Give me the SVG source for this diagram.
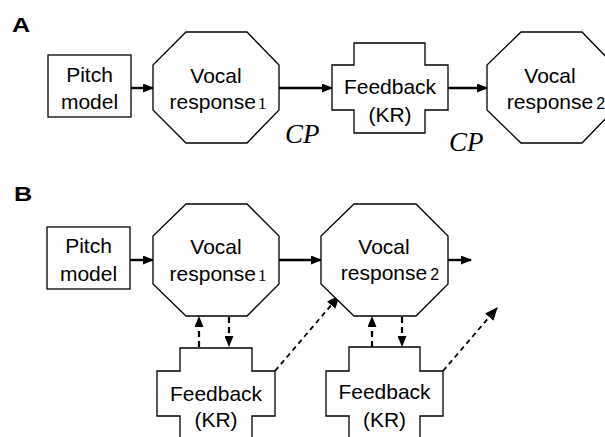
<svg xmlns="http://www.w3.org/2000/svg" width="605" height="437" viewBox="0 0 605 437">
  <defs>
    <marker id="head" markerUnits="userSpaceOnUse" markerWidth="11" markerHeight="9" refX="10" refY="4.5" orient="auto">
      <path d="M0,0 L11,4.5 L0,9 z" fill="#000"/>
    </marker>
    <marker id="headL" markerUnits="userSpaceOnUse" markerWidth="13" markerHeight="11" refX="12" refY="5.5" orient="auto">
      <path d="M0,0 L13,5.5 L0,11 z" fill="#000"/>
    </marker>
  </defs>
  <style>
    .shape { fill: #fff; stroke: #000; stroke-width: 1.3; }
    .lbl { font-family: "Liberation Sans", Arial, sans-serif; font-size: 21px; fill: #000; text-anchor: middle; }
    .sub1 { font-family: "Liberation Serif", "Times New Roman", serif; font-size: 17px; }
    .sub2 { font-family: "Liberation Sans", Arial, sans-serif; font-size: 16px; }
    .panel { font-family: "Liberation Sans", Arial, sans-serif; font-size: 21px; font-weight: bold; fill: #000; }
    .cp { font-family: "Liberation Serif", "Times New Roman", serif; font-style: italic; font-size: 27px; fill: #000; }
    .solid { stroke: #000; stroke-width: 2.4; fill: none; marker-end: url(#head); }
    .dash { stroke: #000; stroke-width: 2.2; fill: none; stroke-dasharray: 6 4; marker-end: url(#head); }
    .dashL { stroke: #000; stroke-width: 1.8; fill: none; stroke-dasharray: 5 4; marker-end: url(#headL); }
  </style>

  <!-- panel labels -->
  <text class="panel" transform="translate(12 32) scale(1.2 1)">A</text>
  <text class="panel" transform="translate(14 201) scale(1.2 1)">B</text>

  <!-- connectors -->
  <g id="connectors">
    <!-- panel A -->
    <line class="solid" x1="131" y1="88" x2="153" y2="88"/>
    <line class="solid" x1="279" y1="88" x2="332" y2="88"/>
    <line class="solid" x1="448" y1="88" x2="487" y2="88"/>
    <!-- panel B -->
    <line class="solid" x1="130" y1="260" x2="153" y2="260"/>
    <line class="solid" x1="279" y1="260" x2="321" y2="260"/>
    <line class="solid" x1="448" y1="260" x2="471" y2="260"/>
    <line class="dash" x1="199" y1="347" x2="199" y2="317"/>
    <line class="dash" x1="229" y1="317" x2="229" y2="346"/>
    <line class="dash" x1="372" y1="347" x2="372" y2="317"/>
    <line class="dash" x1="402" y1="317" x2="402" y2="346"/>
    <line class="dashL" x1="275" y1="371" x2="339" y2="296"/>
    <line class="dashL" x1="443" y1="371" x2="497" y2="308"/>
  </g>

  <!-- CP labels -->
  <text class="cp" x="285" y="143">CP</text>
  <text class="cp" x="449" y="151">CP</text>

  <!-- panel A nodes -->
  <g id="a-pitch">
    <rect class="shape" x="48" y="55" width="83" height="62"/>
    <text class="lbl" x="89.5" y="82">Pitch</text>
    <text class="lbl" x="89.5" y="109">model</text>
  </g>
  <g id="a-vocal1">
    <polygon class="shape" points="186,32 247,32 279,65 279,110 247,143 186,143 153,110 153,65"/>
    <text class="lbl" x="216" y="83">Vocal</text>
    <text class="lbl" x="218" y="109">response<tspan class="sub1" dx="2">1</tspan></text>
  </g>
  <g id="a-feedback">
    <polygon class="shape" points="354,43 425,43 425,65 448,65 448,110 425,110 425,133 354,133 354,110 332,110 332,65 354,65"/>
    <text class="lbl" x="390" y="94">Feedback</text>
    <text class="lbl" x="390" y="122">(KR)</text>
  </g>
  <g id="a-vocal2">
    <polygon class="shape" points="521,32 582,32 614,65 614,110 582,143 521,143 487,110 487,65"/>
    <text class="lbl" x="550" y="83">Vocal</text>
    <text class="lbl" x="556" y="109">response<tspan class="sub2" dx="3">2</tspan></text>
  </g>

  <!-- panel B nodes -->
  <g id="b-pitch">
    <rect class="shape" x="47" y="227" width="83" height="62"/>
    <text class="lbl" x="88.5" y="253">Pitch</text>
    <text class="lbl" x="88.5" y="281">model</text>
  </g>
  <g id="b-vocal1">
    <polygon class="shape" points="186,204 247,204 279,236 279,284 247,316 186,316 153,284 153,236"/>
    <text class="lbl" x="216" y="254">Vocal</text>
    <text class="lbl" x="218" y="281">response<tspan class="sub1" dx="2">1</tspan></text>
  </g>
  <g id="b-vocal2">
    <polygon class="shape" points="354,204 416,204 448,236 448,284 416,316 354,316 321,284 321,236"/>
    <text class="lbl" x="384" y="254">Vocal</text>
    <text class="lbl" x="390" y="280">response<tspan class="sub2" dx="3">2</tspan></text>
  </g>
  <g id="b-feedback1">
    <polygon class="shape" points="180,348 252,348 252,371 275,371 275,416 252,416 252,445 180,445 180,416 157,416 157,371 180,371"/>
    <text class="lbl" x="216" y="401">Feedback</text>
    <text class="lbl" x="216" y="427">(KR)</text>
  </g>
  <g id="b-feedback2">
    <polygon class="shape" points="349,347 420,347 420,371 443,371 443,416 420,416 420,445 349,445 349,416 326,416 326,371 349,371"/>
    <text class="lbl" x="384.5" y="399">Feedback</text>
    <text class="lbl" x="384.5" y="427">(KR)</text>
  </g>
</svg>
